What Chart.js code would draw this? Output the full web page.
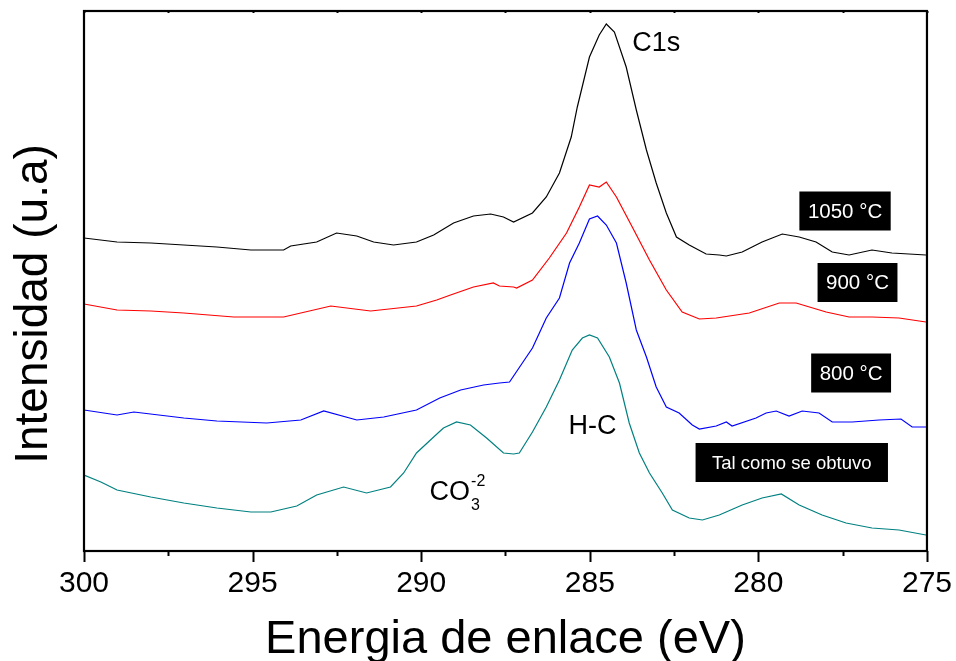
<!DOCTYPE html>
<html>
<head>
<meta charset="utf-8">
<script src="https://cdn.jsdelivr.net/npm/chart.js@4.4.0/dist/chart.umd.min.js"></script>
<style>
html,body{margin:0;padding:0;background:#fff;}
canvas{display:block;}
</style>
</head>
<body>
<canvas id="c" width="956" height="661"></canvas>
<script>
// ---------- DATA (binding energy in eV, intensity in arbitrary units) ----------
const xTicks = [300, 295, 290, 285, 280, 275];

const x1050 = [300.00,299.02,298.02,297.04,296.06,295.05,294.08,293.87,293.10,292.51,291.91,291.41,290.82,290.14,289.63,289.04,288.45,287.94,287.56,287.26,286.70,286.29,285.90,285.55,285.37,285.01,284.72,284.51,284.27,283.92,283.62,283.32,283.03,282.73,282.43,282.05,281.55,281.16,280.95,280.48,279.89,279.29,278.79,278.29,277.81,277.31,276.63,276.04,275.03];
const y1050 = [313,309,308,306,304,301,301,305,309,318,315,309,306,309,316,328,335,337,334,329,338,354,378,414,444,494,516,527,519,484,441,401,368,338,314,306,297,296,295,299,309,317,314,309,299,296,301,298,296];

const x900 = [300.00,299.02,298.02,297.04,295.56,294.08,292.68,291.50,290.14,289.54,289.13,288.45,287.86,287.68,287.26,287.17,286.70,286.20,285.69,285.31,285.01,284.72,284.51,284.21,283.74,283.23,282.73,282.26,281.75,281.25,280.27,279.38,278.88,277.99,277.31,276.63,275.83,275.03];
const y900 = [247,241,240,238,234,234,245,240,245,251,256,264,268,265,264,263,271,293,318,344,366,364,369,354,324,291,261,239,232,233,238,248,248,239,234,234,233,229];

const x800 = [300.00,299.02,298.52,297.04,296.06,294.58,293.57,292.89,291.91,291.11,290.14,289.45,288.83,288.15,287.68,287.38,287.00,286.70,286.29,285.90,285.60,285.31,285.01,284.77,284.51,284.21,283.92,283.62,283.32,283.03,282.73,282.35,281.96,281.75,281.25,280.95,280.78,280.07,279.77,279.47,279.09,278.70,278.20,277.81,277.22,276.42,275.77,275.44,275.03];
const y800 = [141,136,139,133,130,128,131,140,131,134,141,153,161,166,168,169,188,203,233,253,288,308,332,335,326,308,268,221,194,164,144,138,126,122,125,129,125,133,138,140,135,140,138,129,129,131,132,124,124];

const xAsObtained = [300.00,299.50,299.02,298.02,297.04,296.06,295.05,294.46,293.69,293.10,292.30,291.62,290.91,290.52,290.14,289.63,289.34,288.95,288.54,288.06,287.56,287.26,287.09,286.70,286.29,285.90,285.52,285.22,285.01,284.77,284.42,284.12,283.83,283.53,283.23,282.85,282.55,282.05,281.66,281.16,280.48,279.89,279.32,278.79,278.11,277.40,276.63,275.83,275.03];
const yAsObtained = [76,69,61,54,48,43,39,39,45,56,64,58,64,78,98,114,123,129,126,113,98,97,98,119,144,171,201,213,216,213,194,168,128,98,78,58,41,33,31,36,46,53,57,46,36,28,23,21,16];

// boxed sample labels (anchored in data coordinates)
const boxText = ['1050 °C', '900 °C', '800 °C', 'Tal como se obtuvo'];
const boxX = [277.43, 277.06, 277.25, 279.01];
const boxY = [340, 268.5, 178, 88.5];

// peak labels
const peakText = ['C1s', 'H-C'];
const peakX = [283.03, 284.92];
const peakY = [507, 124];
const carbonateX = 289.75;
const carbonateY = 51;

// ---------- helpers ----------
const FONT = '"Liberation Sans", Arial, Helvetica, sans-serif';
function pts(xs, ys){ return xs.map((x,i)=>({x:x, y:ys[i]})); }

const overlay = {
  id: 'overlay',
  afterDraw(chart){
    const ctx = chart.ctx, a = chart.chartArea;
    const sx = chart.scales.x, sy = chart.scales.y;
    ctx.save();
    // frame
    ctx.strokeStyle = '#000';
    ctx.lineWidth = 2.2;
    ctx.strokeRect(a.left, a.top, a.right - a.left, a.bottom - a.top);
    // ticks on bottom axis: major every 5, minor every 2.5
    ctx.lineWidth = 2;
    for (let v = 275; v <= 300; v += 2.5){
      const px = Math.round(sx.getPixelForValue(v)) + 0.5;
      const major = (v % 5 === 0);
      ctx.beginPath();
      ctx.moveTo(px, a.bottom);
      ctx.lineTo(px, a.bottom + (major ? 11 : 5));
      ctx.stroke();
      ctx.beginPath();
      ctx.moveTo(px, a.top);
      ctx.lineTo(px, a.top + 2);
      ctx.stroke();
    }
    // boxed labels
    ctx.textAlign = 'center';
    ctx.textBaseline = 'middle';
    boxText.forEach((t,i)=>{
      const cx = sx.getPixelForValue(boxX[i]);
      const cy = sy.getPixelForValue(boxY[i]);
      const small = t.length > 10;
      ctx.font = (small ? '18.5px ' : '20.5px ') + FONT;
      const w = ctx.measureText(t).width + (small ? 33 : 17);
      const h = 39;
      ctx.fillStyle = '#000';
      ctx.fillRect(cx - w/2, cy - h/2, w, h);
      ctx.fillStyle = '#fff';
      ctx.fillText(t, cx, cy + 1);
    });
    // peak labels
    ctx.fillStyle = '#000';
    ctx.font = '27px ' + FONT;
    peakText.forEach((t,i)=>{
      ctx.fillText(t, sx.getPixelForValue(peakX[i]), sy.getPixelForValue(peakY[i]));
    });
    // CO3^-2
    const bx = sx.getPixelForValue(carbonateX), by = sy.getPixelForValue(carbonateY);
    ctx.textAlign = 'left';
    ctx.textBaseline = 'alphabetic';
    ctx.font = '27px ' + FONT;
    ctx.fillText('CO', bx, by);
    const wco = ctx.measureText('CO').width;
    ctx.font = '16px ' + FONT;
    ctx.fillText('3', bx + wco + 1, by + 10);
    ctx.fillText('-2', bx + wco + 1, by - 14);
    // axis titles
    ctx.font = '47px ' + FONT;
    ctx.textAlign = 'center';
    ctx.textBaseline = 'alphabetic';
    ctx.fillText('Energia de enlace (eV)', (a.left + a.right)/2, 653);
    ctx.save();
    ctx.translate(47, 304);
    ctx.rotate(-Math.PI/2);
    ctx.font = '46px ' + FONT;
    ctx.fillText('Intensidad (u.a)', 0, 0);
    ctx.restore();
    ctx.restore();
  }
};

const ds = (label, xs, ys, color) => ({
  label, data: pts(xs, ys), borderColor: color, backgroundColor: color,
  borderWidth: 1.2, pointRadius: 0, tension: 0, fill: false
});

new Chart(document.getElementById('c'), {
  type: 'line',
  data: {
    datasets: [
      ds('1050 °C', x1050, y1050, '#000000'),
      ds('900 °C', x900, y900, '#ff0000'),
      ds('800 °C', x800, y800, '#0000ff'),
      ds('Tal como se obtuvo', xAsObtained, yAsObtained, '#008080')
    ]
  },
  options: {
    responsive: false,
    animation: false,
    devicePixelRatio: 1,
    layout: { padding: { top: 11, right: 28, left: 0, bottom: 0 } },
    plugins: { legend: { display: false }, tooltip: { enabled: false } },
    scales: {
      x: {
        type: 'linear', reverse: true, min: 275, max: 300,
        afterBuildTicks: (s) => { s.ticks = xTicks.map(v => ({ value: v })); },
        afterFit: (s) => { s.height = 110; },
        border: { display: false },
        grid: { display: true, drawOnChartArea: false, drawTicks: true, tickLength: 11, tickColor: 'rgba(0,0,0,0)' },
        ticks: { color: '#000', font: { family: FONT, size: 30 }, padding: 4, maxRotation: 0, autoSkip: false },
        title: { display: false }
      },
      y: {
        type: 'linear', min: 0, max: 540,
        afterFit: (s) => { s.width = 84; },
        border: { display: false },
        grid: { display: false },
        ticks: { display: false },
        title: { display: false }
      }
    }
  },
  plugins: [overlay]
});
</script>
</body>
</html>
